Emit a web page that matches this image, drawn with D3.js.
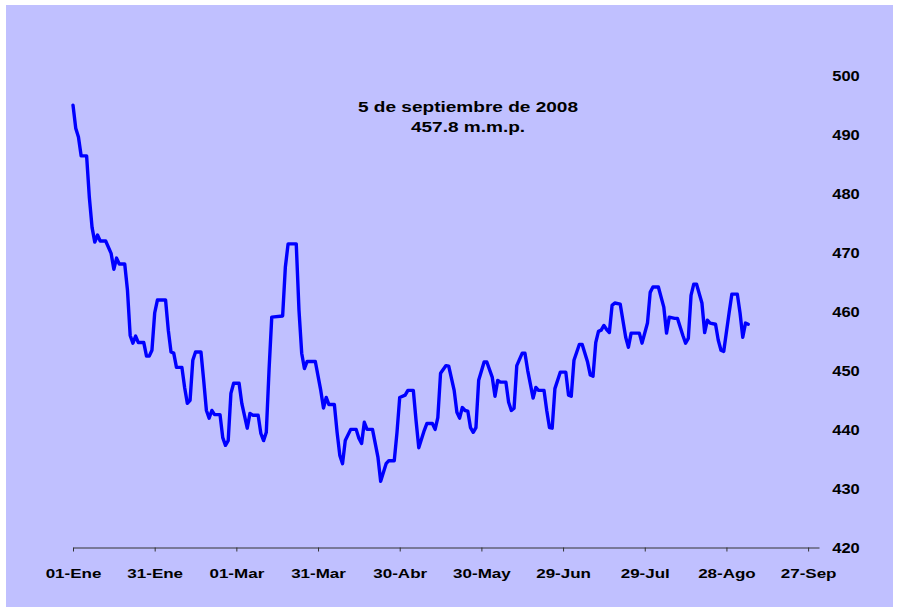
<!DOCTYPE html>
<html>
<head>
<meta charset="utf-8">
<script src="https://cdn.jsdelivr.net/npm/d3@7"></script>
<style>
  html, body { margin: 0; padding: 0; background: #ffffff; }
  svg { display: block; }
  text { font-family: Arial, "Liberation Sans", sans-serif; font-weight: bold; fill: #000; }
</style>
</head>
<body>
<svg id="chart" width="898" height="615"></svg>
<script>
// ---- data ----
const startDate = "2008-01-01";
// day offsets from 1 Jan 2008 of the visible vertices of the series
const dayOffsets = [0,1,2,3,5,6,7,8,9,10,12,14,15,16,17,19,20,21,22,23,24,26,27,28,29,30,31,34,35,36,37,38,40,41,42,43,44,45,47,48,49,50,51,52,54,55,56,57,58,59,61,62,64,65,66,68,69,70,71,72,73,77,78,79,82,83,84,85,86,89,91,92,93,94,96,97,98,99,100,102,104,105,106,107,108,110,112,113,115,116,118,119,120,122,123,125,126,127,129,130,132,133,134,135,137,138,140,141,142,143,144,145,146,147,148,149,151,152,154,155,156,157,159,160,161,162,163,165,166,167,169,170,171,173,174,175,176,177,179,181,182,183,184,186,187,189,190,191,192,193,194,195,196,197,198,199,201,203,204,205,208,209,211,212,213,215,217,218,219,221,222,224,225,226,227,228,229,231,232,233,234,236,237,238,239,241,242,244,245,246,247,248];
// series values (m.m.p.)
const values = [494.9,491.0,489.5,486.3,486.3,479.3,474.2,471.7,472.9,471.9,471.9,469.8,467.1,469.0,468.0,468.0,463.6,455.9,454.6,455.8,454.7,454.7,452.4,452.4,453.4,459.7,461.9,461.9,456.8,453.1,452.9,450.5,450.5,447.1,444.4,444.9,451.7,453.1,453.1,448.3,443.2,441.9,443.2,442.5,442.5,438.6,437.3,438.1,446.1,447.8,447.8,444.4,440.2,442.7,442.4,442.4,439.3,438.1,439.5,450.0,459.0,459.2,467.5,471.4,471.4,460.2,452.9,450.3,451.5,451.5,446.6,443.6,445.4,444.2,444.2,439.5,435.6,434.2,438.1,440.0,440.0,438.5,437.6,441.2,440.0,440.0,435.3,431.2,434.2,434.7,434.7,439.5,445.4,445.8,446.6,446.6,441.5,436.9,439.8,441.0,441.0,440.0,442.0,449.5,450.8,450.7,446.6,442.9,441.9,443.7,443.2,443.1,440.3,439.5,440.3,448.3,451.4,451.4,448.8,445.6,448.3,448.0,448.0,444.6,443.2,443.6,450.8,452.9,452.9,450.0,445.3,447.1,446.6,446.6,443.2,440.3,440.2,446.9,449.7,449.7,445.8,445.6,451.7,454.4,454.4,451.4,449.2,449.0,454.7,456.6,456.8,457.6,456.9,456.4,461.0,461.4,461.2,455.6,453.9,456.3,456.3,454.6,458.0,463.2,464.1,464.1,460.7,456.3,459.0,458.8,458.8,455.9,454.6,455.4,462.7,464.6,464.6,461.4,456.4,458.5,458.0,457.8,455.1,453.4,453.2,459.8,462.9,462.9,459.7,455.6,458.0,457.8];
// x-axis tick positions (day offsets) and labels
const tickDays = [0,30,60,90,120,150,180,210,240,270];
const tickLabels = ["01-Ene","31-Ene","01-Mar","31-Mar","30-Abr","30-May","29-Jun","29-Jul","28-Ago","27-Sep"];
// y-axis ticks
const yTicks = [420,430,440,450,460,470,480,490,500];
const annotationLines = ["5 de septiembre de 2008","457.8 m.m.p."];

// ---- drawing ----
const svg = d3.select("#chart");
const parse = d3.timeParse("%Y-%m-%d");
const t0 = parse(startDate);
const dayToDate = d => d3.timeDay.offset(t0, d);

const X0 = 73, X1 = 819, Y0 = 547.5, Y1 = 75;
const x = d3.scaleTime().domain([t0, dayToDate(274)]).range([X0, X1]);
const y = d3.scaleLinear().domain([420, 500]).range([Y0, Y1]);

const data = dayOffsets.map((d, i) => ({ date: dayToDate(d), v: values[i] }));

svg.append("rect").attr("x", 6).attr("y", 5).attr("width", 887).attr("height", 602)
  .attr("fill", "#C0C0FF");

const SX = 1.26;

// x axis
const xAxis = d3.axisBottom(x)
  .tickValues(tickDays.map(dayToDate))
  .tickSize(4)
  .tickSizeOuter(0)
  .tickFormat((d, i) => tickLabels[i]);
const gx = svg.append("g").attr("transform", `translate(0,${Y0})`).call(xAxis);
gx.select(".domain").attr("stroke", "#333").attr("stroke-width", 1);
gx.selectAll(".tick line").attr("stroke", "#333");
gx.selectAll(".tick text")
  .attr("y", 0).attr("dy", 0)
  .attr("font-size", 13.5)
  .attr("font-family", "Arial, 'Liberation Sans', sans-serif")
  .attr("font-weight", "bold")
  .attr("fill", "#000")
  .attr("transform", `translate(0,30.5) scale(${SX},1)`);

// y axis (labels only, on the right)
const yAxis = d3.axisRight(y).tickValues(yTicks).tickSize(0).tickFormat(d3.format("d"));
const gy = svg.append("g").attr("transform", `translate(846,0)`).call(yAxis);
gy.select(".domain").remove();
gy.selectAll(".tick text")
  .attr("x", 0).attr("dy", "0.36em")
  .attr("text-anchor", "middle")
  .attr("font-size", 14)
  .attr("font-family", "Arial, 'Liberation Sans', sans-serif")
  .attr("font-weight", "bold")
  .attr("fill", "#000")
  .attr("transform", `scale(1.18,1)`);

// line
const line = d3.line().x(d => x(d.date)).y(d => y(d.v));
svg.append("path").datum(data)
  .attr("d", line)
  .attr("fill", "none")
  .attr("stroke", "#0000FF")
  .attr("stroke-width", 3.4)
  .attr("stroke-linejoin", "round")
  .attr("stroke-linecap", "round");

// annotation
const ann = svg.append("g").attr("transform", "translate(468,0)");
ann.selectAll("text").data(annotationLines).join("text")
  .attr("text-anchor", "middle")
  .attr("font-size", 15)
  .attr("transform", (d, i) => `translate(0,${111.5 + i * 20.5}) scale(1.27,1)`)
  .text(d => d);
</script>
</body>
</html>
